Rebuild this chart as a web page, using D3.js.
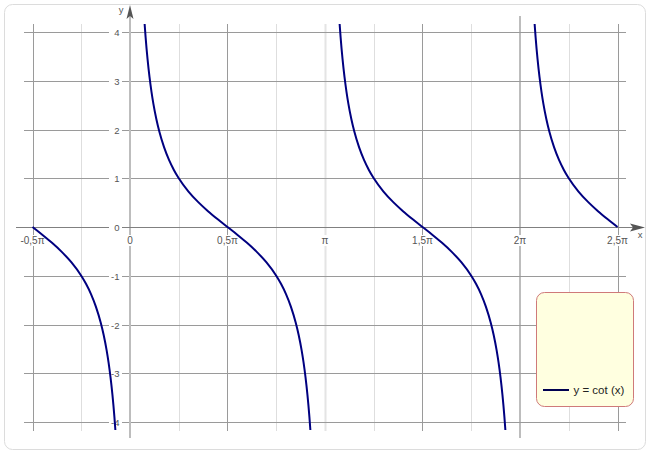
<!DOCTYPE html>
<html><head><meta charset="utf-8">
<script src="https://cdn.jsdelivr.net/npm/d3@7"></script>
<style>body{margin:0;background:#fff}svg{display:block}</style>
</head><body>
<script>
// ---- data (x in units of π) ----
const periodT = [0.075,0.08,0.09,0.1,0.11,0.12,0.135,0.15,0.175,0.2,0.225,0.25,0.3,0.35,0.4,0.45,0.5,0.55,0.6,0.65,0.7,0.75,0.775,0.8,0.825,0.85,0.865,0.88,0.89,0.9,0.91,0.92,0.925];
const periodY = [4.165,3.894,3.442,3.078,2.778,2.526,2.215,1.963,1.632,1.376,1.171,1.0,0.727,0.510,0.325,0.158,0,-0.158,-0.325,-0.510,-0.727,-1.0,-1.171,-1.376,-1.632,-1.963,-2.215,-2.526,-2.778,-3.078,-3.442,-3.894,-4.165];
const branchOffsets = [-1, 0, 1, 2];
const domainX = [-0.5, 2.5];
const xTicks = [-0.5, 0, 0.5, 1, 1.5, 2, 2.5];
const xTickLabels = ["-0,5π", "0", "0,5π", "π", "1,5π", "2π", "2,5π"];
const yTicks = [-4, -3, -2, -1, 0, 1, 2, 3, 4];
const majorV = [-0.5, 0.5, 1.5, 2.5];
const minorV = [-0.25, 0.25, 0.75, 1, 1.25, 1.75, 2.25];
const legendLabel = "y = cot (x)";

const W = 650, H = 455;
const svg = d3.select("body").append("svg").attr("width", W).attr("height", H);
svg.append("rect").attr("x",4.5).attr("y",4.5).attr("width",641).attr("height",445)
  .attr("rx",8).attr("fill","#fff").attr("stroke","#dcdcdc");

const x = d3.scaleLinear().domain(domainX).range([32.5, 617.5]);
const y = d3.scaleLinear().domain([-4, 4]).range([422, 32]);
const gx0 = 24, gx1 = 626, gy0 = 24, gy1 = 431;

// minor vertical grid
minorV.forEach(v => {
  svg.append("line").attr("x1", Math.round(x(v))+0.5).attr("x2", Math.round(x(v))+0.5)
    .attr("y1", gy0).attr("y2", gy1).attr("stroke", v === 1 ? "#e4e4e4" : "#dedede")
    .attr("stroke-width", v === 1 ? 2 : 1);
});
// major vertical grid
majorV.forEach(v => {
  svg.append("line").attr("x1", Math.round(x(v))+0.5).attr("x2", Math.round(x(v))+0.5)
    .attr("y1", gy0).attr("y2", gy1).attr("stroke", "#9a9a9a");
});
// 2π line
svg.append("line").attr("x1", x(2)).attr("x2", x(2)).attr("y1", 16).attr("y2", 438)
  .attr("stroke", "#bdbdbd").attr("stroke-width", 2);
// horizontal grid
yTicks.forEach(v => {
  if (v === 0) return;
  svg.append("line").attr("x1", gx0).attr("x2", gx1)
    .attr("y1", Math.round(y(v))+0.5).attr("y2", Math.round(y(v))+0.5).attr("stroke", "#9a9a9a");
});
// y axis
svg.append("line").attr("x1", x(0)).attr("x2", x(0)).attr("y1", 12).attr("y2", 438)
  .attr("stroke", "#bdbdbd").attr("stroke-width", 2);
svg.append("path").attr("d", `M${x(0)},5 L${x(0)-3.5},19 L${x(0)},16 L${x(0)+3.5},19 Z`).attr("fill", "#555");
svg.append("text").attr("x", 121).attr("y", 13).attr("text-anchor","middle")
  .attr("font-family","Liberation Sans, Arial, sans-serif").attr("font-size",9.5).attr("fill","#555").text("y");
// x axis
svg.append("line").attr("x1", 16).attr("x2", 636).attr("y1", Math.round(y(0))+0.5).attr("y2", Math.round(y(0))+0.5)
  .attr("stroke", "#808080");
const ay = Math.round(y(0))+0.5;
svg.append("path").attr("d", `M645,${ay} L630,${ay-4} L633,${ay} L630,${ay+4} Z`).attr("fill", "#555");
svg.append("text").attr("x", 640).attr("y", 238).attr("text-anchor","middle")
  .attr("font-family","Liberation Sans, Arial, sans-serif").attr("font-size",9.5).attr("fill","#555").text("x");

// y tick labels
yTicks.forEach(v => {
  const yy = Math.round(y(v));
  svg.append("rect").attr("x", 109).attr("y", yy-5).attr("width", 13).attr("height", 10).attr("fill", "#fff");
  svg.append("text").attr("x", 119.5).attr("y", yy+3.5).attr("text-anchor","end")
    .attr("font-family","Liberation Sans, Arial, sans-serif").attr("font-size",9.5).attr("fill","#555").text(v);
});
// x tick labels
xTicks.forEach((v,i) => {
  const t = svg.append("text").attr("x", x(v)).attr("y", 244).attr("text-anchor","middle")
    .attr("font-family","Liberation Sans, Arial, sans-serif").attr("font-size",10).attr("fill","#555").text(xTickLabels[i]);
  const bb = t.node().getBBox();
  svg.insert("rect", () => t.node()).attr("x", bb.x-1).attr("y", 235).attr("width", bb.width+2).attr("height", 11).attr("fill", "#fff");
});

// curves
const line = d3.line().x(d => x(d[0])).y(d => y(d[1])).curve(d3.curveMonotoneX);
branchOffsets.forEach(off => {
  const pts = periodT.map((t,i) => [t + off, periodY[i]])
    .filter(p => p[0] >= domainX[0] - 1e-9 && p[0] <= domainX[1] + 1e-9);
  svg.append("path").attr("d", line(pts)).attr("fill","none")
    .attr("stroke","#000080").attr("stroke-width",2);
});

// legend
svg.append("rect").attr("x",536.5).attr("y",292.5).attr("width",97).attr("height",114).attr("rx",8)
  .attr("fill","#ffffe0").attr("stroke","#cf7a7a");
svg.append("line").attr("x1",543).attr("x2",569).attr("y1",390).attr("y2",390)
  .attr("stroke","#000050").attr("stroke-width",2);
svg.append("text").attr("x",573.5).attr("y",394).attr("font-family","Liberation Sans, Arial, sans-serif")
  .attr("font-size",11.5).attr("fill","#222").text(legendLabel);
</script>
</body></html>
